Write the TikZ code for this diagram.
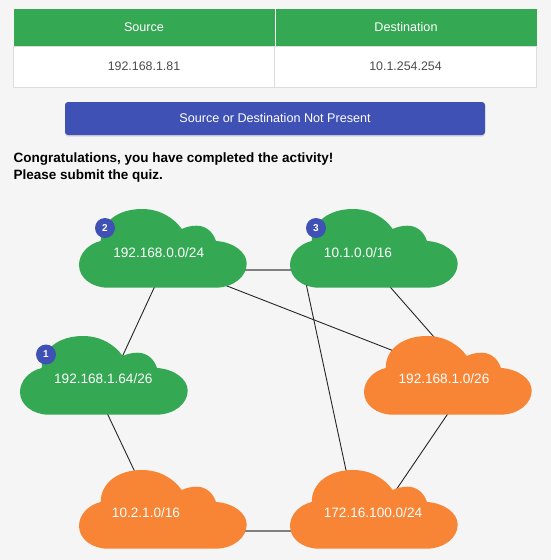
\documentclass[tikz,border=0pt]{standalone}
\usepackage{fontspec}
\setmainfont{Liberation Sans}
\usetikzlibrary{shadows}
\definecolor{pagegray}{HTML}{F5F5F5}
\definecolor{netgreen}{HTML}{34A853}
\definecolor{netorange}{HTML}{F78535}
\definecolor{btnblue}{HTML}{3F51B5}
\definecolor{cellline}{HTML}{DDDDDD}
\begin{document}
\begin{tikzpicture}[x=1pt, y=-1pt,
    headcell/.style={fill=netgreen, text=white, minimum height=37pt, inner sep=0pt, text height=9pt, text depth=1pt, font=\fontsize{12.6}{14}\selectfont},
    bodycell/.style={fill=white, draw=cellline, line width=1pt, text=black!70, minimum height=41pt, inner sep=0pt, font=\fontsize{12.4}{14}\selectfont},
    netbox/.style={minimum width=168pt, minimum height=79pt, inner sep=0pt},
    netlabel/.style={text=white, inner sep=0pt, font=\fontsize{13.6}{15}\selectfont},
    badge/.style={circle, fill=btnblue, text=white, minimum size=20pt, inner sep=0pt, font=\fontsize{10}{12}\selectfont\bfseries},
    link/.style={draw=black!85, line width=0.9pt},
    flatlink/.style={draw=black!50, line width=1.5pt},
    netcloud/.pic={
        \path[pic actions] (29,78.7) -- (136,78.7)
            .. controls (154,78.7) and (167.7,68) .. (167.7,54.5)
            .. controls (167.7,43) and (154,33) .. (137,32)
            .. controls (134,23) and (127,16.7) .. (117.7,16.7)
            .. controls (112,16.7) and (107,18) .. (102.7,20)
            .. controls (95,9) and (81,0) .. (63,0)
            .. controls (39,0) and (21.7,13) .. (21.7,32)
            .. controls (9,35) and (0,45) .. (0,56)
            .. controls (0,69) and (13,78.7) .. (29,78.7) -- cycle;
    }]
    \useasboundingbox[fill=pagegray] (0,0) rectangle (551,560);

    \node[bodycell, minimum width=262pt] (srcval) at (144,66.5) {192.168.1.81};
    \node[bodycell, minimum width=262pt] (dstval) at (405.5,66.5) {10.1.254.254};
    \node[headcell, minimum width=261pt] (srchead) at (144,27.5) {Source};
    \node[headcell, minimum width=261pt] (dsthead) at (406,27.5) {Destination};

    \node[fill=btnblue, text=white, rounded corners=3pt, minimum width=420pt, minimum height=33pt, inner sep=0pt,
        drop shadow={opacity=0.25, shadow xshift=0pt, shadow yshift=-1.5pt},
        font=\fontsize{12.6}{14}\selectfont] (notpresent) at (275,118.5) {\raisebox{1pt}{Source or Destination Not Present}};

    \node[anchor=north west, align=left, inner sep=0pt, font=\fontsize{13.5}{16.5}\selectfont\bfseries] (done) at (13.5,153)
        {Congratulations, you have completed the activity!\\Please submit the quiz.};

    \node[netbox] (net2) at (163,248.5) {};
    \node[netbox] (net3) at (374,248.5) {};
    \node[netbox] (net1) at (104,375.5) {};
    \node[netbox] (net4) at (448,375.5) {};
    \node[netbox] (net5) at (163,509.5) {};
    \node[netbox] (net6) at (374,509.5) {};

    \draw[link] ([shift={(-5.3,31.5)}]net2.center) -- ([shift={(15.8,-13.5)}]net1.center);
    \draw[flatlink] ([shift={(77,21.5)}]net2.center) -- ([shift={(-74,21.5)}]net3.center);
    \draw[link] ([shift={(52,32.8)}]net2.center) -- ([shift={(-40,-19)}]net4.center);
    \draw[link] ([shift={(-68.7,31.5)}]net3.center) -- ([shift={(-25.9,-29.5)}]net6.center);
    \draw[link] ([shift={(10,31.5)}]net3.center) -- ([shift={(-7,-30.5)}]net4.center);
    \draw[link] ([shift={(0.2,31.5)}]net1.center) -- ([shift={(-25.2,-31.5)}]net5.center);
    \draw[flatlink] ([shift={(77,21.5)}]net5.center) -- ([shift={(-74,21.5)}]net6.center);
    \draw[link] ([shift={(4.4,31.5)}]net4.center) -- ([shift={(16.6,-11.5)}]net6.center);

    \pic[fill=netgreen] at (79,209) {netcloud};
    \pic[fill=netgreen] at (290,209) {netcloud};
    \pic[fill=netgreen] at (20,336) {netcloud};
    \pic[fill=netorange] at (364,336) {netcloud};
    \pic[fill=netorange] at (79,470) {netcloud};
    \pic[fill=netorange] at (290,470) {netcloud};

    \node[netlabel] (label2) at (158.7,252.3) {192.168.0.0/24};
    \node[netlabel] (label3) at (358,252.3) {10.1.0.0/16};
    \node[netlabel] (label1) at (103.3,379) {192.168.1.64/26};
    \node[netlabel] (label4) at (444,379) {192.168.1.0/26};
    \node[netlabel] (label5) at (146,512.5) {10.2.1.0/16};
    \node[netlabel] (label6) at (373,512.5) {172.16.100.0/24};

    \node[badge] (badge1) at (46,354.5) {1};
    \node[badge] (badge2) at (105,228) {2};
    \node[badge] (badge3) at (316,228) {3};
\end{tikzpicture}
\end{document}
